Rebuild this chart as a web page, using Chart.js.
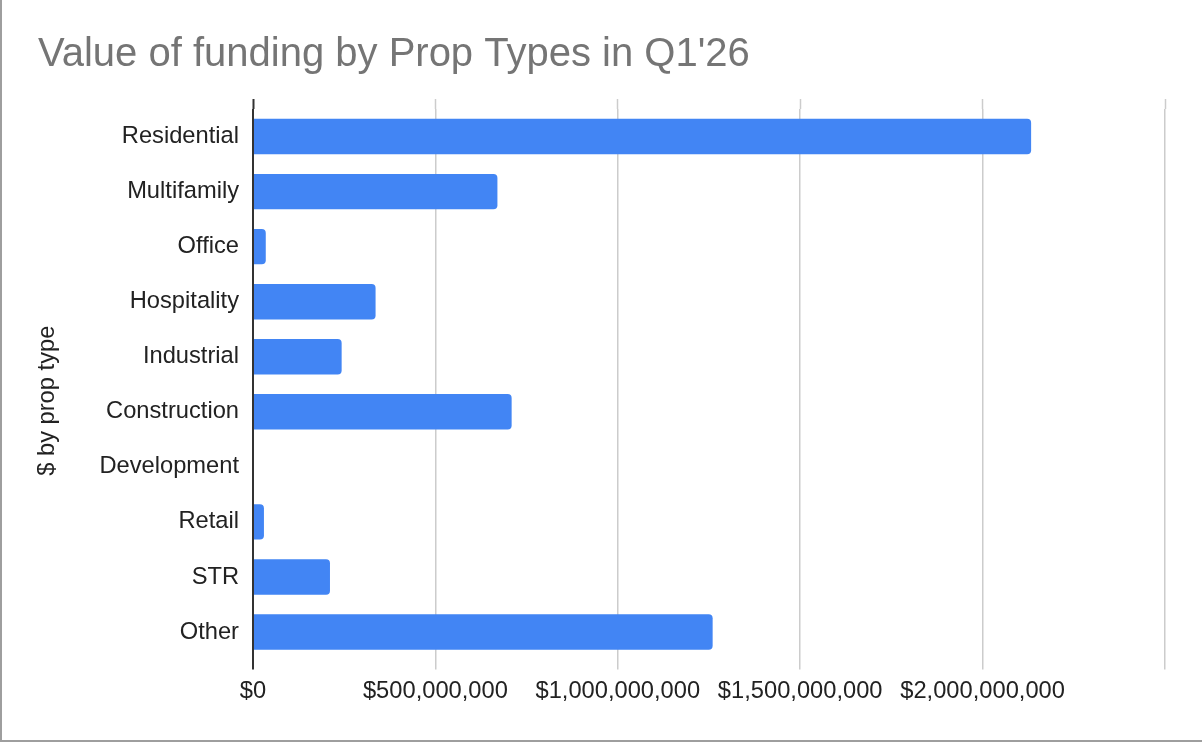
<!DOCTYPE html>
<html lang="en">
  <head>
    <meta charset="UTF-8" />
    <title>Value of funding by Prop Types in Q1'26</title>
    <script src="https://cdn.jsdelivr.net/npm/chart.js@4.4.1/dist/chart.umd.min.js"></script>
    <style>
      html, body {
        margin: 0;
        padding: 0;
        background: #ffffff;
      }

      .frame {
        width: 1202px;
        height: 742px;
        box-sizing: border-box;
        border-left: 2px solid #9e9e9e;
        border-bottom: 2px solid #9e9e9e;
        background: #ffffff;
      }

      .chart-box {
        position: relative;
        width: 1200px;
        height: 740px;
      }
    </style>
  </head>
  <body>
    <div class="frame">
      <div class="chart-box">
        <canvas id="fundingChart"></canvas>
      </div>
    </div>

    <script>
      // categories and funding values ($)
      const propTypes = [
        "Residential",
        "Multifamily",
        "Office",
        "Hospitality",
        "Industrial",
        "Construction",
        "Development",
        "Retail",
        "STR",
        "Other",
      ];

      const fundingValues = [
        2133000000, 670000000, 35000000, 336000000, 243000000,
        709000000, 0, 30000000, 211000000, 1260000000,
      ];

      // x axis ticks
      const xTickValues = [0, 500000000, 1000000000, 1500000000, 2000000000, 2500000000];
      const xTickLabels = ["$0", "$500,000,000", "$1,000,000,000", "$1,500,000,000", "$2,000,000,000", ""];

      const FONT = "'Liberation Sans', Arial, Helvetica, sans-serif";
      const isZero = (ctx) => ctx.tick && ctx.tick.value === 0;
      const lineColor = (c) => (isZero(c) ? "#333333" : "#cccccc");
      const lineWidth = (c) => (isZero(c) ? 2 : 1.5);

      const ctx = document.getElementById("fundingChart").getContext("2d");

      new Chart(ctx, {
        type: "bar",
        data: {
          labels: propTypes,
          datasets: [
            {
              label: "$ by prop type",
              data: fundingValues,
              backgroundColor: "#4285f4",
              borderRadius: 4,
              categoryPercentage: 1,
              barPercentage: 0.643,
            },
          ],
        },
        options: {
          indexAxis: "y",
          responsive: true,
          maintainAspectRatio: false,
          animation: false,
          layout: {
            padding: { left: 36, right: 37, top: 0, bottom: 26 },
          },
          plugins: {
            legend: { display: false },
            tooltip: { enabled: false },
            title: {
              display: true,
              text: "Value of funding by Prop Types in Q1'26",
              align: "start",
              color: "#757575",
              font: { family: FONT, size: 40, weight: "normal" },
              padding: { top: 31, bottom: 20 },
            },
          },
          scales: {
            x: {
              type: "linear",
              position: "bottom",
              min: 0,
              max: 2500000000,
              afterBuildTicks: (scale) => {
                scale.ticks = xTickValues.map((v) => ({ value: v }));
              },
              ticks: {
                color: "#222222",
                padding: 8,
                maxRotation: 0,
                autoSkip: false,
                font: { family: FONT, size: 23.7 },
                callback: (value, i) => xTickLabels[i],
              },
              grid: {
                color: lineColor,
                lineWidth: lineWidth,
                tickColor: lineColor,
                tickWidth: lineWidth,
                drawTicks: true,
                tickLength: 10,
              },
              border: { display: false },
            },
            // top axis only adds the short grid stubs above the bars
            xTop: {
              type: "linear",
              position: "top",
              min: 0,
              max: 2500000000,
              afterBuildTicks: (scale) => {
                scale.ticks = xTickValues.map((v) => ({ value: v }));
              },
              ticks: { display: false },
              grid: {
                drawOnChartArea: false,
                drawTicks: true,
                tickLength: 10,
                tickColor: lineColor,
                tickWidth: lineWidth,
              },
              border: { display: false },
            },
            y: {
              type: "category",
              afterFit: (scale) => {
                scale.width = 215;
              },
              ticks: {
                color: "#222222",
                padding: 14,
                font: { family: FONT, size: 23.7 },
              },
              grid: { display: false, drawTicks: false },
              border: { display: false },
              title: {
                display: true,
                text: "$ by prop type     ",
                color: "#222222",
                font: { family: FONT, size: 23.7, lineHeight: 0.8 },
                padding: { top: 0, bottom: 0 },
              },
            },
          },
        },
      });
    </script>
  </body>
</html>
